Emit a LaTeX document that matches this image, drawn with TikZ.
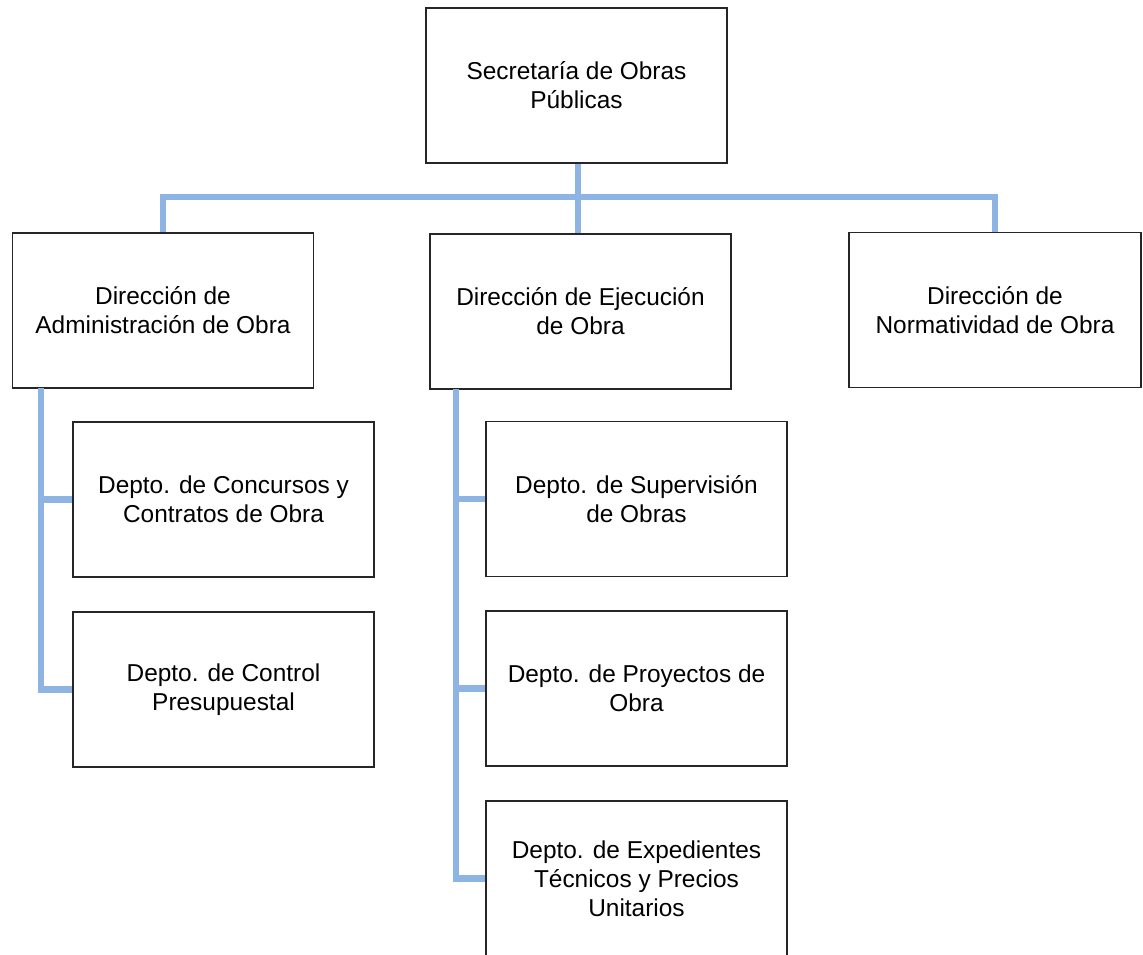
\documentclass[tikz,border=0pt]{standalone}
\usepackage{fontspec}
\setmainfont{Liberation Sans}
\usepackage{tikz}
\usetikzlibrary{positioning}
\definecolor{linkblue}{HTML}{8EB4E3}
\tikzstyle{every node}=[font=\fontsize{13.9}{16.5}\selectfont]
\tikzstyle{unit}=[draw=black!85,line width=0.8pt,align=center,inner sep=0pt,
  minimum width=6.02cm,minimum height=3.1cm]
\tikzstyle{link}=[draw=linkblue,line width=3.5pt]

\begin{document}
\begin{tikzpicture}[x=0.02cm,y=-0.02cm]
  \useasboundingbox (0,0) rectangle (1143,954);
  \node [unit] (secretaria) at (576.5,85.5) {Secretaría de Obras\\Públicas};
  \node [unit] (admin) at (163,310.5) {Dirección de\\Administración de Obra};
  \node [unit] (ejecucion) at (580.5,311.5) {Dirección de Ejecución\\de Obra};
  \node [unit,minimum width=5.84cm] (normatividad) at (995,310) {Dirección de\\Normatividad de Obra};
  \node [unit] (concursos) at (223.5,499.5) {Depto. de Concursos y\\Contratos de Obra};
  \node [unit] (control) at (223.5,689.5) {Depto. de Control\\Presupuestal};
  \node [unit] (supervision) at (636.5,499) {Depto. de Supervisión\\de Obras};
  \node [unit] (proyectos) at (636.5,688.5) {Depto. de Proyectos de\\Obra};
  \node [unit] (expedientes) at (636.5,878.5) {Depto. de Expedientes\\Técnicos y Precios\\Unitarios};
  % top level
  \coordinate (bus) at (578,197);
  \draw [link] (secretaria.south -| bus) -- (ejecucion.north -| bus);
  \draw [link] (admin.north) -- (admin.north |- bus) -- (normatividad.north |- bus) -- (normatividad.north);
  % administracion
  \coordinate (adminbus) at (41,388);
  \draw [link] (adminbus) |- (control.west);
  \draw [link] (adminbus |- concursos.west) -- (concursos.west);
  % ejecucion
  \coordinate (ejecbus) at (456,389);
  \draw [link] (ejecbus) |- (expedientes.west);
  \draw [link] (ejecbus |- supervision.west) -- (supervision.west);
  \draw [link] (ejecbus |- proyectos.west) -- (proyectos.west);
\end{tikzpicture}
\end{document}
